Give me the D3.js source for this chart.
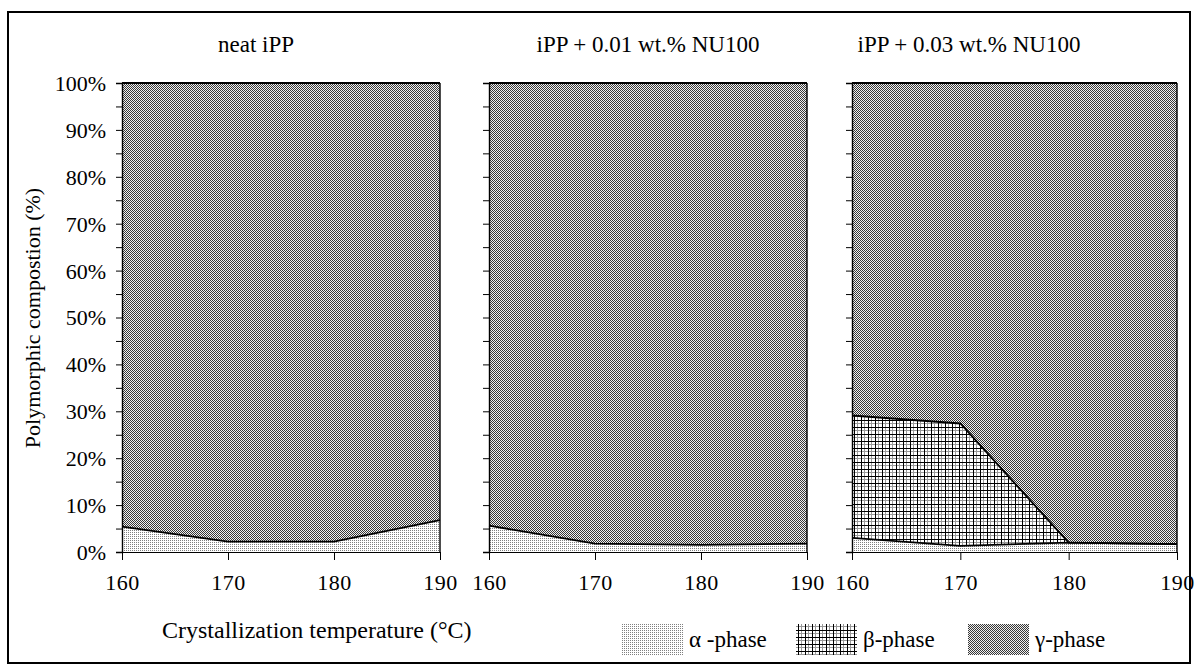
<!DOCTYPE html>
<html lang="en">
  <head>
    <meta charset="UTF-8" />
    <title>Polymorphic composition</title>
    <script src="https://cdn.jsdelivr.net/npm/d3@7"></script>
    <style>
      body { margin: 0; background: #fff; }
      text { font-family: "Liberation Serif", "Times New Roman", serif; fill: #000; }
    </style>
  </head>
  <body>
    <svg id="container" width="1195" height="666"></svg>
    <script>
      // values, in % of the crystalline phase
      const panelTitles = ["neat iPP", "iPP + 0.01 wt.% NU100", "iPP + 0.03 wt.% NU100"];
      const temps = [160, 170, 180, 190];
      const alphaNeat = [5.4, 2.2, 2.2, 6.8];
      const betaNeat = [0, 0, 0, 0];
      const alpha001 = [5.6, 1.8, 1.5, 1.8];
      const beta001 = [0, 0, 0, 0];
      const alpha003 = [3.0, 1.3, 2.0, 1.7];
      const beta003 = [26.1, 26.1, 0, 0];
      const xTicks = [160, 170, 180, 190];
      const legendLabels = ["\u03b1 -phase", "\u03b2-phase", "\u03b3-phase"];

      const panels = [
        { title: panelTitles[0], alpha: alphaNeat, beta: betaNeat, left: 122, right: 440, titleX: 256 },
        { title: panelTitles[1], alpha: alpha001, beta: beta001, left: 489, right: 807, titleX: 648 },
        { title: panelTitles[2], alpha: alpha003, beta: beta003, left: 852, right: 1177, titleX: 969 },
      ];
      const plotTop = 83, plotBottom = 552;

      let svg = d3.select("#container");

      // fill patterns
      let defs = svg.append("defs");
      let pa = defs.append("pattern").attr("id", "pat-alpha")
        .attr("patternUnits", "userSpaceOnUse").attr("width", 2).attr("height", 2);
      pa.append("rect").attr("width", 2).attr("height", 2).attr("fill", "#fff");
      pa.append("rect").attr("width", 1).attr("height", 1).attr("fill", "#808080");

      let pb = defs.append("pattern").attr("id", "pat-beta")
        .attr("patternUnits", "userSpaceOnUse").attr("width", 7).attr("height", 7);
      pb.append("rect").attr("width", 7).attr("height", 7).attr("fill", "#fff");
      pb.append("rect").attr("x", 3).attr("width", 1).attr("height", 7).attr("fill", "#999");
      pb.append("rect").attr("y", 3).attr("width", 7).attr("height", 1).attr("fill", "#999");
      pb.append("rect").attr("width", 1).attr("height", 7).attr("fill", "#000");
      pb.append("rect").attr("width", 7).attr("height", 1).attr("fill", "#000");

      let pg = defs.append("pattern").attr("id", "pat-gamma")
        .attr("patternUnits", "userSpaceOnUse").attr("width", 2).attr("height", 2);
      pg.append("rect").attr("width", 2).attr("height", 2).attr("fill", "#f0f0f0");
      pg.append("rect").attr("width", 1).attr("height", 1).attr("fill", "#383838");
      pg.append("rect").attr("x", 1).attr("y", 1).attr("width", 1).attr("height", 1).attr("fill", "#383838");

      // outer frame
      svg.append("rect").attr("x", 8).attr("y", 12).attr("width", 1182).attr("height", 651)
        .attr("fill", "none").attr("stroke", "#000").attr("stroke-width", 2);

      let y = d3.scaleLinear().domain([0, 100]).range([plotBottom, plotTop]);

      panels.forEach((p, i) => {
        let x = d3.scaleLinear().domain([160, 190]).range([p.left, p.right]);
        let g = svg.append("g");

        let rows = temps.map((t, k) => ({
          t: t,
          a: p.alpha[k],
          ab: p.alpha[k] + p.beta[k],
        }));

        let area = (lo, hi) => d3.area().x((d) => x(d.t)).y0(lo).y1(hi);

        g.append("path").attr("d", area((d) => y(d.ab), () => y(100))(rows))
          .attr("fill", "url(#pat-gamma)");
        g.append("path").attr("d", area((d) => y(d.a), (d) => y(d.ab))(rows))
          .attr("fill", "url(#pat-beta)");
        g.append("path").attr("d", area(() => y(0), (d) => y(d.a))(rows))
          .attr("fill", "url(#pat-alpha)");

        let line = d3.line().x((d) => x(d.t));
        g.append("path").attr("d", line.y((d) => y(d.a))(rows))
          .attr("fill", "none").attr("stroke", "#000").attr("stroke-width", 1.8);
        if (d3.max(p.beta) > 0) {
          g.append("path").attr("d", line.y((d) => y(d.ab))(rows))
            .attr("fill", "none").attr("stroke", "#000").attr("stroke-width", 1.8);
        }
        g.append("line").attr("x1", p.left).attr("x2", p.right)
          .attr("y1", y(100)).attr("y2", y(100)).attr("stroke", "#000").attr("stroke-width", 1.8);
        g.append("line").attr("x1", p.right).attr("x2", p.right)
          .attr("y1", y(100)).attr("y2", y(0)).attr("stroke", "#000").attr("stroke-width", 1.4);

        // y axis, labels only on the first panel
        let yAxis = d3.axisLeft(y).tickValues(d3.range(0, 101, 5)).tickSize(6).tickPadding(10)
          .tickFormat((d) => (i === 0 && d % 10 === 0 ? d + "%" : ""));
        let ya = g.append("g").attr("transform", `translate(${p.left},0)`).call(yAxis);
        ya.select(".domain").attr("stroke", "#000").attr("stroke-width", 1.4);
        ya.selectAll("text").attr("font-size", 22).attr("dy", "0.34em");

        let xAxis = d3.axisBottom(x).tickValues(xTicks).tickSize(8).tickPadding(14);
        let xa = g.append("g").attr("transform", `translate(0,${plotBottom})`).call(xAxis);
        xa.selectAll("text").attr("font-size", 22).attr("letter-spacing", 0.5);

        svg.append("text").attr("x", p.titleX).attr("y", 52).attr("text-anchor", "middle")
          .attr("font-size", 23).text(p.title);
      });

      svg.append("text").attr("x", 162).attr("y", 638).attr("font-size", 24)
        .text("Crystallization temperature (\u00b0C)");
      svg.append("text").attr("transform", "translate(40,318) rotate(-90)")
        .attr("text-anchor", "middle").attr("font-size", 22)
        .text("Polymorphic compostion (%)");

      // legend
      const legendX = [622, 796, 968];
      const legendFill = ["url(#pat-alpha)", "url(#pat-beta)", "url(#pat-gamma)"];
      legendLabels.forEach((lab, k) => {
        svg.append("rect").attr("x", legendX[k]).attr("y", 624).attr("width", 61).attr("height", 31)
          .attr("fill", legendFill[k]);
        svg.append("text").attr("x", legendX[k] + 67).attr("y", 647).attr("font-size", 23).text(lab);
      });
    </script>
  </body>
</html>
